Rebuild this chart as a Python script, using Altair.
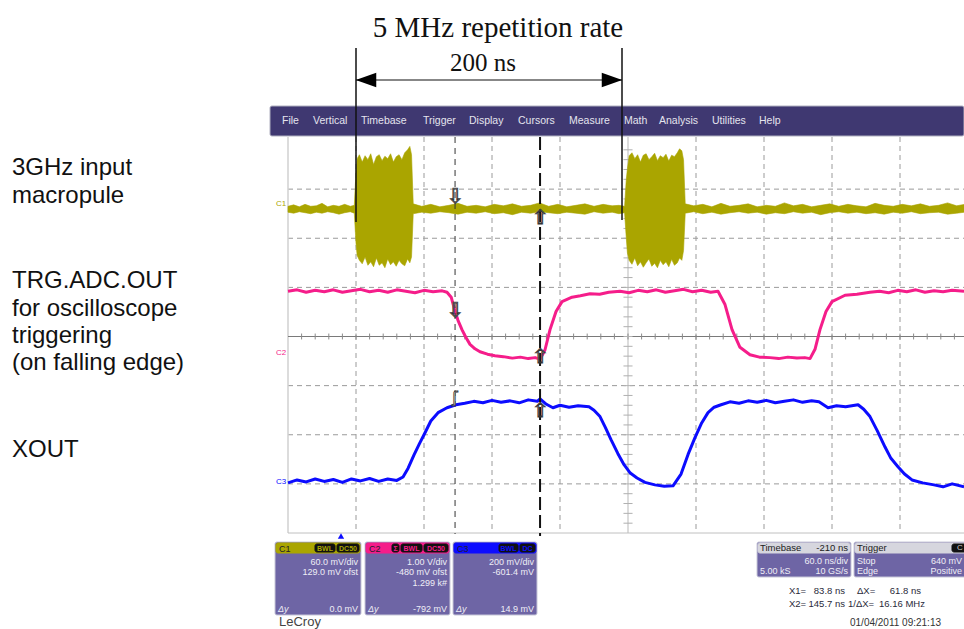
import altair as alt
import pandas as pd

# ---------------- trace data (time in ns, 60 ns/div; amplitude in screen divisions) ----------------
# C1: 3 GHz input macropulse, drawn as envelope (hi / lo)
c1_t = [0, 5, 10, 15, 20, 25, 30, 35, 40, 45,
        50, 55, 58.5, 60, 61, 63, 65.5, 68, 70.5, 73,
        75.5, 78, 80.5, 83, 85.5, 88, 90.5, 93, 95.5, 98,
        100.5, 103, 105.5, 107.5, 109, 110.5, 118, 126, 134, 142,
        150, 158, 166, 174, 182, 190, 198, 206, 214, 222,
        230, 238, 246, 254, 262, 270, 278, 286, 292, 297,
        298.5, 299.5, 301, 303.5, 306, 308.5, 311, 313.5, 316, 318.5,
        321, 323.5, 326, 328.5, 331, 333.5, 336, 338.5, 341, 343.5,
        345.5, 347.5, 349, 350.5, 358, 366, 374, 382, 390, 398,
        406, 414, 422, 430, 438, 446, 454, 462, 470, 478,
        486, 494, 502, 510, 518, 526, 534, 542, 550, 558,
        566, 574, 582, 590, 597]
c1_hi = [2.65, 2.68, 2.64, 2.69, 2.65, 2.66, 2.71, 2.64, 2.67, 2.65,
         2.69, 2.65, 2.67, 3.35, 3.62, 3.70, 3.55, 3.68, 3.60, 3.72,
         3.50, 3.66, 3.70, 3.58, 3.67, 3.62, 3.72, 3.55, 3.66, 3.70,
         3.60, 3.74, 3.80, 3.87, 3.70, 2.70, 2.65, 2.69, 2.64, 2.67,
         2.71, 2.65, 2.67, 2.64, 2.69, 2.66, 2.70, 2.65, 2.67, 2.72,
         2.65, 2.69, 2.64, 2.67, 2.70, 2.65, 2.69, 2.66, 2.67, 2.65,
         3.20, 3.42, 3.68, 3.74, 3.62, 3.70, 3.55, 3.69, 3.72, 3.60,
         3.66, 3.73, 3.58, 3.68, 3.64, 3.71, 3.57, 3.69, 3.66, 3.74,
         3.82, 3.78, 3.60, 2.70, 2.66, 2.69, 2.64, 2.71, 2.65, 2.67,
         2.70, 2.64, 2.67, 2.65, 2.72, 2.66, 2.69, 2.64, 2.67, 2.70,
         2.65, 2.69, 2.66, 2.64, 2.71, 2.67, 2.65, 2.69, 2.66, 2.70,
         2.65, 2.67, 2.72, 2.66, 2.69]
c1_lo = [2.53, 2.51, 2.54, 2.52, 2.50, 2.53, 2.51, 2.54, 2.52, 2.49,
         2.52, 2.54, 2.51, 1.90, 1.65, 1.55, 1.48, 1.62, 1.45, 1.52,
         1.42, 1.60, 1.45, 1.50, 1.40, 1.58, 1.46, 1.52, 1.43, 1.55,
         1.48, 1.44, 1.58, 1.50, 1.62, 2.50, 2.53, 2.51, 2.54, 2.52,
         2.49, 2.53, 2.51, 2.54, 2.50, 2.52, 2.48, 2.53, 2.51, 2.54,
         2.52, 2.50, 2.53, 2.51, 2.49, 2.54, 2.51, 2.53, 2.50, 2.52,
         2.00, 1.70, 1.55, 1.47, 1.60, 1.44, 1.52, 1.41, 1.50, 1.58,
         1.43, 1.49, 1.40, 1.55, 1.46, 1.52, 1.42, 1.57, 1.45, 1.50,
         1.60, 1.55, 1.75, 2.51, 2.54, 2.50, 2.53, 2.49, 2.52, 2.54,
         2.51, 2.53, 2.49, 2.52, 2.50, 2.54, 2.51, 2.53, 2.48, 2.52,
         2.54, 2.51, 2.53, 2.50, 2.52, 2.49, 2.53, 2.51, 2.54, 2.50,
         2.52, 2.53, 2.49, 2.51, 2.53]

# C2: TRG.ADC.OUT
c2_t = [0, 8, 16, 24, 32, 40, 48, 56, 64, 72,
        80, 88, 96, 104, 112, 120, 128, 136, 140.3, 144,
        147.4, 150, 153.5, 157, 160.6, 165, 169.4, 176, 182.6, 190,
        198, 205, 212, 218, 222.4, 225, 226.8, 231.2, 236.5, 241.8,
        250.6, 258, 266.5, 275, 283, 293, 301, 309, 317, 325,
        333, 341, 349, 357, 365, 373, 379.4, 385.6, 391.8, 398.8,
        407.6, 416, 425.3, 433, 441, 449, 456, 460.6, 465, 469.4,
        474.7, 480, 491.5, 502, 513.5, 522, 530, 538, 546, 554,
        562, 570, 578, 586, 596.5]
c2_v = [0.92, 0.95, 0.90, 0.94, 0.91, 0.95, 0.90, 0.93, 0.96, 0.91,
        0.94, 0.90, 0.95, 0.92, 0.89, 0.94, 0.91, 0.93, 0.90, 0.80,
        0.51, 0.33, 0.14, -0.02, -0.16, -0.25, -0.31, -0.36, -0.39, -0.41,
        -0.44, -0.42, -0.45, -0.43, -0.46, -0.35, -0.27, 0.14, 0.51, 0.71,
        0.80, 0.83, 0.87, 0.86, 0.90, 0.92, 0.89, 0.94, 0.91, 0.95,
        0.90, 0.93, 0.96, 0.91, 0.94, 0.90, 0.92, 0.65, 0.14, -0.22,
        -0.37, -0.42, -0.43, -0.45, -0.42, -0.44, -0.43, -0.45, -0.26, 0.14,
        0.51, 0.71, 0.84, 0.86, 0.90, 0.92, 0.89, 0.94, 0.91, 0.95,
        0.90, 0.93, 0.91, 0.94, 0.92]

# C3: XOUT
c3_t = [0, 8, 16, 24, 32, 40, 48, 56, 64, 72,
        80, 88, 96, 101.5, 106, 111.2, 116, 120.9, 126, 132.4,
        140.3, 148.2, 156, 164, 172, 180, 188, 196, 204, 212,
        220, 222.4, 228, 233.8, 240, 248, 256, 265.6, 270, 275.3,
        280, 285, 291, 296.5, 302, 308, 315, 323.8, 332, 339.7,
        346.8, 353, 359.1, 365, 370.6, 376, 382.1, 390, 398, 406,
        414, 422, 430, 438, 446, 454, 462, 468.5, 476.5, 484,
        492, 503, 508, 513.5, 520, 526.8, 532, 538.2, 544, 550.6,
        560, 570, 578, 586, 596.5]
c3_v = [-2.98, -2.92, -2.96, -2.90, -2.95, -2.91, -2.97, -2.90, -2.94, -2.89,
        -2.95, -2.90, -2.93, -2.86, -2.68, -2.41, -2.18, -1.96, -1.72, -1.55,
        -1.45, -1.39, -1.36, -1.32, -1.35, -1.30, -1.34, -1.31, -1.35, -1.29,
        -1.32, -1.27, -1.38, -1.45, -1.40, -1.44, -1.41, -1.43, -1.50, -1.63,
        -1.85, -2.10, -2.38, -2.61, -2.78, -2.88, -2.97, -3.02, -3.05, -3.04,
        -2.80, -2.40, -2.06, -1.76, -1.55, -1.44, -1.39, -1.33, -1.36, -1.31,
        -1.34, -1.30, -1.35, -1.32, -1.29, -1.34, -1.31, -1.33, -1.45, -1.41,
        -1.43, -1.39, -1.48, -1.63, -1.92, -2.25, -2.48, -2.65, -2.80, -2.92,
        -2.98, -3.02, -3.06, -3.00, -3.06]

# cursors (ns) and graticule
cursor_x1 = 147.4
cursor_x2 = 222.4
grid_t = [60, 120, 180, 240, 360, 420, 480, 540]
grid_v = [-3, -2, -1, 1, 2, 3]

# ---------------- colours ----------------
COL_C1 = "#aaa500"
COL_C2 = "#f51d8a"
COL_C3 = "#0c0cff"
MENU = "#3f3871"
BOX = "#6e65a5"
SANS = "Liberation Sans"

XS = alt.Scale(domain=[0, 600], range=[288, 968])
YS = alt.Scale(domain=[-4, 4], range=[533, 140])


def tx(field="t"):
    return alt.X(f"{field}:Q", scale=XS, axis=None)


def ty(field="v"):
    return alt.Y(f"{field}:Q", scale=YS, axis=None)


layers = []

# ---------------- scope frame ----------------
rect_rows = [
    # x, x2, y, y2, fill, stroke
    (270, 964, 106, 136, MENU, "#b0b0c0"),
    (275, 361, 542, 615, BOX, "#c8c8d8"),
    (276, 360, 543, 553, COL_C1, COL_C1),
    (315, 335, 544, 552, "#111111", "#111111"),
    (337, 359, 544, 552, "#111111", "#111111"),
    (365, 450, 542, 615, BOX, "#c8c8d8"),
    (366, 449, 543, 553, COL_C2, COL_C2),
    (392, 399, 544, 552, "#111111", "#111111"),
    (401, 422, 544, 552, "#111111", "#111111"),
    (424, 448, 544, 552, "#111111", "#111111"),
    (453, 537, 542, 615, BOX, "#c8c8d8"),
    (454, 536, 543, 553, COL_C3, COL_C3),
    (499, 518, 544, 552, "#111111", "#111111"),
    (520, 535, 544, 552, "#111111", "#111111"),
    (757, 851, 542, 577, BOX, "#c8c8d8"),
    (758, 850, 543, 553, "#d6d6de", "#d6d6de"),
    (854, 980, 542, 577, BOX, "#c8c8d8"),
    (855, 979, 543, 553, "#d6d6de", "#d6d6de"),
    (952, 970, 544, 552, "#111111", "#111111"),
]
rect_df = pd.DataFrame(rect_rows, columns=["x", "x2", "y", "y2", "fill", "stroke"])
layers.append(
    alt.Chart(rect_df).mark_rect(cornerRadius=2, strokeWidth=1).encode(
        x=alt.X("x:Q", scale=None), x2="x2:Q",
        y=alt.Y("y:Q", scale=None), y2="y2:Q",
        fill=alt.Fill("fill:N", scale=None),
        stroke=alt.Stroke("stroke:N", scale=None),
    )
)

# graticule
grid_t_df = pd.DataFrame({"t": grid_t})
grid_v_df = pd.DataFrame({"v": grid_v})
layers.append(alt.Chart(grid_t_df).mark_rule(color="#9a9a9a", strokeDash=[5, 4], strokeWidth=1).encode(
    x=tx(), y=alt.value(137), y2=alt.value(533)))
layers.append(alt.Chart(grid_v_df).mark_rule(color="#9a9a9a", strokeDash=[5, 4], strokeWidth=1).encode(
    y=ty(), x=alt.value(288), x2=alt.value(964)))
layers.append(alt.Chart(pd.DataFrame({"t": [0, 300]})).mark_rule(color="#d0d0d0", strokeWidth=1.5).encode(
    x=tx(), y=alt.value(137), y2=alt.value(533)))
layers.append(alt.Chart(pd.DataFrame({"v": [0]})).mark_rule(color="#7a7a7a", strokeWidth=1.2).encode(
    y=ty(), x=alt.value(288), x2=alt.value(964)))
layers.append(alt.Chart(pd.DataFrame({"v": [-4]})).mark_rule(color="#c0c0c0", strokeWidth=1).encode(
    y=ty(), x=alt.value(288), x2=alt.value(964)))
# minor ticks on centre lines
tick_h = pd.DataFrame({"t": [12 * i for i in range(1, 50)], "a": 0.06, "b": -0.06})
layers.append(alt.Chart(tick_h).mark_rule(color="#8a8a8a", strokeWidth=1).encode(
    x=tx(), y=ty("a"), y2="b:Q"))
tick_v = pd.DataFrame({"v": [round(-4 + 0.2 * j, 2) for j in range(1, 40)], "a": 296, "b": 304})
layers.append(alt.Chart(tick_v).mark_rule(color="#b0b0b0", strokeWidth=1).encode(
    y=ty(), x=alt.X("a:Q", scale=XS, axis=None), x2="b:Q"))

# ---------------- traces ----------------
c1_df = pd.DataFrame({"t": c1_t, "hi": c1_hi, "lo": c1_lo})
c2_df = pd.DataFrame({"t": c2_t, "v": c2_v})
c3_df = pd.DataFrame({"t": c3_t, "v": c3_v})
layers.append(alt.Chart(c2_df).mark_line(color=COL_C2, strokeWidth=3, strokeJoin="round").encode(
    x=tx(), y=ty()))
layers.append(alt.Chart(c3_df).mark_line(color=COL_C3, strokeWidth=3, strokeJoin="round").encode(
    x=tx(), y=ty()))
layers.append(alt.Chart(c1_df).mark_area(color=COL_C1, opacity=1, stroke=COL_C1, strokeWidth=0.6).encode(
    x=tx(), y=ty("hi"), y2="lo:Q"))

# cursors
layers.append(alt.Chart(pd.DataFrame({"t": [cursor_x1]})).mark_rule(color="#333333", strokeDash=[6, 5], strokeWidth=1).encode(
    x=tx(), y=alt.value(137), y2=alt.value(534)))
layers.append(alt.Chart(pd.DataFrame({"t": [cursor_x2]})).mark_rule(color="#111111", strokeDash=[13, 5], strokeWidth=2).encode(
    x=tx(), y=alt.value(137), y2=alt.value(536)))

# cursor markers
mk_down = pd.DataFrame({"t": [cursor_x1, cursor_x1], "v": [2.84, 0.52]})
mk_up = pd.DataFrame({"t": [cursor_x2, cursor_x2, cursor_x2], "v": [2.42, -0.42, -1.52]})
layers.append(alt.Chart(mk_down).mark_text(text="⇩", font="DejaVu Sans", fontSize=20, fill="white",
                                           stroke="#333333", strokeWidth=0.8, baseline="middle").encode(x=tx(), y=ty()))
layers.append(alt.Chart(mk_up).mark_text(text="⇧", font="DejaVu Sans", fontSize=20, fill="white",
                                         stroke="#333333", strokeWidth=0.8, baseline="middle").encode(x=tx(), y=ty()))
layers.append(alt.Chart(pd.DataFrame({"t": [cursor_x1], "v": [-1.25]})).mark_text(
    text="ʃ", font="DejaVu Sans", fontSize=16, fill="white", stroke="#333333", strokeWidth=0.8,
    baseline="middle").encode(x=tx(), y=ty()))


# ---------------- text helper ----------------
def texts(rows, **kw):
    df = pd.DataFrame(rows, columns=["x", "y", "text"])
    return alt.Chart(df).mark_text(**kw).encode(
        x=alt.X("x:Q", scale=None), y=alt.Y("y:Q", scale=None), text="text:N")


# channel tags at the left of the screen
layers.append(texts([(276, 204, "C1")], font=SANS, fontSize=8, color=COL_C1, align="left", baseline="middle"))
layers.append(texts([(276, 353, "C2")], font=SANS, fontSize=8, color=COL_C2, align="left", baseline="middle"))
layers.append(texts([(276, 482, "C3")], font=SANS, fontSize=8, color=COL_C3, align="left", baseline="middle"))

# menu bar
menu = [(282, 121, "File"), (313, 121, "Vertical"), (361, 121, "Timebase"), (423, 121, "Trigger"),
        (469, 121, "Display"), (518, 121, "Cursors"), (569, 121, "Measure"), (624, 121, "Math"),
        (659, 121, "Analysis"), (712, 121, "Utilities"), (759, 121, "Help")]
layers.append(texts(menu, font=SANS, fontSize=10.5, color="#e4e4ee", align="left", baseline="middle"))

# channel boxes
layers.append(texts([(279, 548.5, "C1"), (369, 548.5, "C2"), (457, 548.5, "C3")],
                    font=SANS, fontSize=9, color="#20202a", align="left", baseline="middle"))
layers.append(texts([(325, 548.5, "BWL"), (348, 548.5, "DC50")], font=SANS, fontSize=7,
                    color=COL_C1, align="center", baseline="middle", fontWeight="bold"))
layers.append(texts([(395.5, 548.5, "Σ"), (411.5, 548.5, "BWL"), (436, 548.5, "DC50")], font=SANS, fontSize=7,
                    color=COL_C2, align="center", baseline="middle", fontWeight="bold"))
layers.append(texts([(508.5, 548.5, "BWL"), (527.5, 548.5, "DC")], font=SANS, fontSize=7,
                    color=COL_C3, align="center", baseline="middle", fontWeight="bold"))
box_right = [(358, 562, "60.0 mV/div"), (358, 572, "129.0 mV ofst"), (358, 609, "0.0 mV"),
             (447, 562, "1.00 V/div"), (447, 572, "-480 mV ofst"), (447, 583, "1.299 k#"), (447, 609, "-792 mV"),
             (534, 562, "200 mV/div"), (534, 572, "-601.4 mV"), (534, 609, "14.9 mV"),
             (848, 561, "60.0 ns/div"), (848, 571, "10 GS/s"), (962, 561, "640 mV"), (962, 571, "Positive")]
layers.append(texts(box_right, font=SANS, fontSize=9, color="#eeeef6", align="right", baseline="middle"))
layers.append(texts([(278, 609, "Δy"), (368, 609, "Δy"), (456, 609, "Δy")], font=SANS, fontSize=9,
                    fontStyle="italic", color="#eeeef6", align="left", baseline="middle"))
layers.append(texts([(760, 571, "5.00 kS"), (857, 561, "Stop"), (857, 571, "Edge")],
                    font=SANS, fontSize=9, color="#eeeef6", align="left", baseline="middle"))
layers.append(texts([(760, 548, "Timebase"), (857, 548, "Trigger")],
                    font=SANS, fontSize=9.5, color="#222222", align="left", baseline="middle"))
layers.append(texts([(848, 548, "-210 ns")], font=SANS, fontSize=9.5, color="#222222", align="right", baseline="middle"))
layers.append(texts([(960, 548, "C")], font=SANS, fontSize=8, color="#cccccc", align="center", baseline="middle"))
# measurement readout
layers.append(texts([(789, 591, "X1="), (857, 591, "ΔX="), (789, 604, "X2="), (848, 604, "1/ΔX="),
                     (879, 604, "16.16 MHz")],
                    font=SANS, fontSize=9.5, color="#2a2a3a", align="left", baseline="middle"))
layers.append(texts([(845, 591, "83.8 ns"), (921, 591, "61.8 ns"), (845, 604, "145.7 ns")],
                    font=SANS, fontSize=9.5, color="#2a2a3a", align="right", baseline="middle"))
layers.append(texts([(850, 623, "01/04/2011 09:21:13")], font=SANS, fontSize=10, color="#333333",
                    align="left", baseline="middle"))
layers.append(texts([(279, 626, "LeCroy")], font=SANS, fontSize=13, color="#444444",
                    align="left", baseline="alphabetic"))
# trigger position marker
layers.append(alt.Chart(pd.DataFrame({"x": [341], "y": [536]})).mark_point(
    shape="triangle-up", filled=True, color=COL_C3, size=40, opacity=1).encode(
    x=alt.X("x:Q", scale=None), y=alt.Y("y:Q", scale=None)))

# ---------------- left-hand labels ----------------
left_labels = [(12, 175, "3GHz input"), (12, 203, "macropule"),
               (12, 288, "TRG.ADC.OUT"), (12, 316, "for oscilloscope"),
               (12, 343, "triggering"), (12, 370, "(on falling edge)"),
               (12, 457, "XOUT")]
layers.append(texts(left_labels, font=SANS, fontSize=24, color="#111111", align="left", baseline="alphabetic"))

# ---------------- repetition-rate annotation ----------------
layers.append(texts([(498, 37, "5 MHz repetition rate")], font="Liberation Serif", fontSize=29,
                    color="#111111", align="center", baseline="alphabetic"))
layers.append(texts([(483, 71, "200 ns")], font="Liberation Serif", fontSize=25,
                    color="#111111", align="center", baseline="alphabetic"))
ann_v = pd.DataFrame({"x": [356, 622], "y": [48, 48], "y2": [222, 220]})
layers.append(alt.Chart(ann_v).mark_rule(color="#111111", strokeWidth=1.5).encode(
    x=alt.X("x:Q", scale=None), y=alt.Y("y:Q", scale=None), y2="y2:Q"))
layers.append(alt.Chart(pd.DataFrame({"x": [356], "x2": [622], "y": [80]})).mark_rule(
    color="#111111", strokeWidth=1.2).encode(
    x=alt.X("x:Q", scale=None), x2="x2:Q", y=alt.Y("y:Q", scale=None)))
heads = pd.DataFrame({"x": [366, 612], "y": [80, 80], "s": ["L", "R"]})
layers.append(alt.Chart(heads[heads.s == "L"]).mark_point(
    shape="M-1,0L1,-0.7L1,0.7Z", filled=True, color="#000000", size=420, opacity=1).encode(
    x=alt.X("x:Q", scale=None), y=alt.Y("y:Q", scale=None)))
layers.append(alt.Chart(heads[heads.s == "R"]).mark_point(
    shape="M1,0L-1,-0.7L-1,0.7Z", filled=True, color="#000000", size=420, opacity=1).encode(
    x=alt.X("x:Q", scale=None), y=alt.Y("y:Q", scale=None)))

chart = alt.layer(*layers).properties(
    width=964, height=629, padding=0, autosize="none", background="white"
).configure_view(stroke=None)

chart.save("out.html", embed_options={"renderer": "svg", "actions": False})
